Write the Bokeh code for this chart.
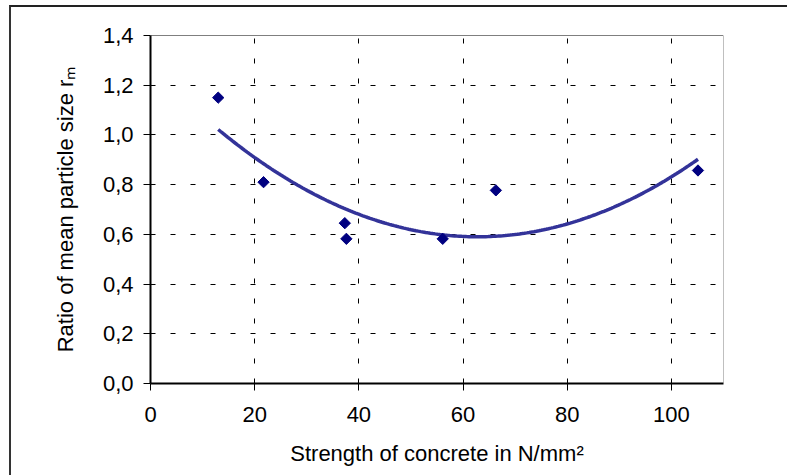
import numpy as np
from bokeh.plotting import figure
from bokeh.models import Range1d, FixedTicker, Span, InlineStyleSheet
from bokeh.embed import file_html
from bokeh.resources import INLINE

# --- data ---
strength = [13.0, 21.7, 37.3, 37.6, 56.1, 66.3, 105.1]
ratio = [1.15, 0.81, 0.645, 0.582, 0.582, 0.777, 0.857]

x_ticks = [0, 20, 40, 60, 80, 100]
y_ticks = [0.0, 0.2, 0.4, 0.6, 0.8, 1.0, 1.2, 1.4]
y_tick_labels = ["0,0", "0,2", "0,4", "0,6", "0,8", "1,0", "1,2", "1,4"]

x_title = "Strength of concrete in N/mm²"
y_title = "Ratio of mean particle size rₘ"

FONT = "Liberation Sans"

# outer chart-area frame (only its left and top edges are inside the picture)
frame_css = InlineStyleSheet(css="""
:host::after {
  content: "";
  position: absolute;
  left: 9px; top: 5px; width: 900px; height: 600px;
  border-left: 2px solid #333333;
  border-top: 2px solid #222222;
  pointer-events: none;
}
""")

p = figure(width=787, height=475, output_backend="svg", toolbar_location=None,
           x_range=Range1d(0, 110), y_range=Range1d(0, 1.4),
           min_border_left=150, min_border_right=64, min_border_top=35,
           min_border_bottom=92, stylesheets=[frame_css])
p.background_fill_color = "white"
p.border_fill_color = "white"
p.outline_line_color = None

# grid
for g in (p.xgrid, p.ygrid):
    g.grid_line_color = "black"
    g.grid_line_width = 1
    g.grid_line_dash = "5 15"
p.xgrid.ticker = FixedTicker(ticks=x_ticks)
p.ygrid.ticker = FixedTicker(ticks=y_ticks)

# axes
p.xaxis.ticker = FixedTicker(ticks=x_ticks)
p.yaxis.ticker = FixedTicker(ticks=y_ticks)
p.yaxis.major_label_overrides = {t: l for t, l in zip(y_ticks, y_tick_labels)}
for ax in (p.xaxis, p.yaxis):
    ax.axis_line_color = "black"
    ax.axis_line_width = 2
    ax.major_tick_line_color = "black"
    ax.major_tick_line_width = 1
    ax.major_tick_out = 7
    ax.major_tick_in = 0
    ax.minor_tick_line_color = None
    ax.major_label_text_font = FONT
    ax.major_label_text_font_size = "22px"
    ax.major_label_text_color = "black"
    ax.axis_label_text_font = FONT
    ax.axis_label_text_font_size = "22px"
    ax.axis_label_text_font_style = "normal"
    ax.axis_label_text_color = "black"
p.xaxis.major_label_standoff = 16
p.yaxis.major_label_standoff = 10
p.xaxis.axis_label = x_title
p.xaxis.axis_label_standoff = 16
p.yaxis.axis_label = y_title
p.yaxis.axis_label_standoff = 22

# plot-area border (top black, right grey)
p.add_layout(Span(location=1.4, dimension="width", line_color="black", line_width=1))
p.add_layout(Span(location=110, dimension="height", line_color="#808080", line_width=1))

# quadratic trend line fitted to the data
coef = np.polyfit(strength, ratio, 2)
tx = np.linspace(min(strength), max(strength), 200)
p.line(tx, np.polyval(coef, tx), line_color="#333399", line_width=3.5)

# data points
p.scatter(strength, ratio, marker="square", angle=np.pi / 4, size=8,
          fill_color="#000080", line_color="#000080")

open("out.html", "w").write(file_html(p, INLINE))
